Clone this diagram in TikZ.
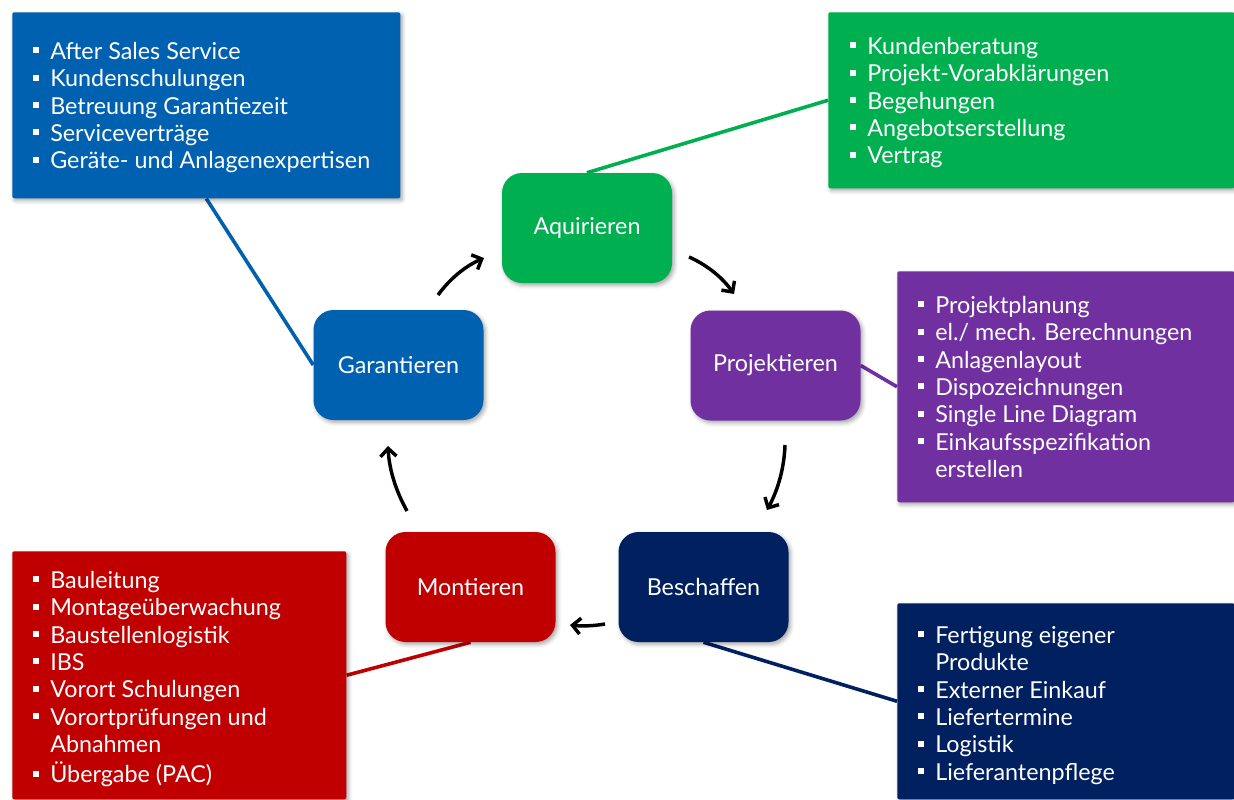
\documentclass[tikz,border=0pt]{standalone}
\usepackage{fontspec}
\setmainfont{Lato}
\usetikzlibrary{arrows.meta,shadows.blur,backgrounds}
\definecolor{cblue}{RGB}{0,97,176}
\definecolor{cgreen}{RGB}{0,176,80}
\definecolor{cpurple}{RGB}{112,48,160}
\definecolor{cnavy}{RGB}{0,32,96}
\definecolor{cred}{RGB}{192,0,0}
\newcommand\bi{\strut\llap{\rule[4.5pt]{4.5pt}{4.5pt}\hspace{8.25pt}}}
\newcommand\cl{\strut}
\begin{document}
\begin{tikzpicture}[x=0.75pt,y=-0.75pt,
  shd/.style={blur shadow={shadow xshift=1.5pt,shadow yshift=-1.8pt,shadow blur radius=3pt,shadow opacity=35}},
  detail/.style={rectangle,rounded corners=1.5pt,inner sep=0pt,anchor=north west,shd},
  proc/.style={rectangle,rounded corners=15pt,minimum width=127.5pt,minimum height=82.5pt,inner sep=0pt,text=white,font=\fontsize{17.5}{20}\selectfont,shd},
  txt/.style={anchor=north west,inner sep=0pt,text=white,align=left,font=\fontsize{17.5}{20.55}\selectfont},
  link/.style={line width=2.7pt},
  cyc/.style={line width=2.6pt,black,-{Straight Barb[length=6pt,width=12pt,line width=2.6pt]}}
]
\useasboundingbox (0,0) rectangle (1234,799);

% detail boxes
\node[detail,fill=cblue,minimum width=291pt,minimum height=139.5pt] (bbox) at (12,12) {};
\node[detail,fill=cgreen,minimum width=304.5pt,minimum height=132pt] (gbox) at (828,12) {};
\node[detail,fill=cpurple,minimum width=252.75pt,minimum height=173.25pt] (pbox) at (897,271) {};
\node[detail,fill=cnavy,minimum width=252.75pt,minimum height=147pt] (nbox) at (897,603) {};
\node[detail,fill=cred,minimum width=250.5pt,minimum height=186pt] (rbox) at (12,551) {};

% texts
\node[txt] (btxt) at (50,39.8) {\bi After Sales Service\\\bi Kundenschulungen\\\bi Betreuung Garantiezeit\\\bi Serviceverträge\\\bi Geräte- und Anlagenexpertisen};
\node[txt] (gtxt) at (867,34.8) {\bi Kundenberatung\\\bi Projekt-Vorabklärungen\\\bi Begehungen\\\bi Angebotserstellung\\\bi Vertrag};
\node[txt] (ptxt) at (935,293.8) {\bi Projektplanung\\\bi el./ mech. Berechnungen\\\bi Anlagenlayout\\\bi Dispozeichnungen\\\bi Single Line Diagram\\\bi Einkaufsspezifikation\\\cl erstellen};
\node[txt] (ntxt) at (935,623.8) {\bi Fertigung eigener\\\cl Produkte\\\bi Externer Einkauf\\\bi Liefertermine\\\bi Logistik\\\bi Lieferantenpflege};
\node[txt] (rtxt) at (50,568.8) {\bi Bauleitung\\\bi Montageüberwachung\\\bi Baustellenlogistik\\\bi IBS\\\bi Vorort Schulungen\\\bi Vorortprüfungen und\\\cl Abnahmen\\\bi Übergabe (PAC)};

% process nodes
\node[proc,fill=cgreen] (aq) at (587,228) {Aquirieren};
\node[proc,fill=cpurple] (proj) at (775.5,365.5) {Projektieren};
\node[proc,fill=cnavy] (besch) at (703.5,587) {Beschaffen};
\node[proc,fill=cred] (mont) at (470.5,587) {Montieren};
\node[proc,fill=cblue] (gar) at (398.5,365) {Garantieren};

% connector lines
\begin{scope}[on background layer]
\draw[link,cgreen] (aq.north) -- (gbox.west);
\draw[link,cblue] (gar.west) -- (bbox.south);
\draw[link,cpurple] (proj.east) -- (pbox.west);
\draw[link,cnavy] (besch.south) -- (nbox.west);
\draw[link,cred] (mont.south) -- (rbox.east);
\end{scope}

% cycle arrows
\coordinate (a1s) at (438,295); \coordinate (a1e) at (484,258);
\coordinate (a2s) at (689,257); \coordinate (a2e) at (734,294);
\coordinate (a3s) at (785,445); \coordinate (a3e) at (767,510);
\coordinate (a4s) at (605,624); \coordinate (a4e) at (570,625);
\coordinate (a5s) at (407,511); \coordinate (a5e) at (388,446);
\draw[cyc] (a1s) .. controls (450.1,278.5) and (465.4,266.1) .. (a1e);
\draw[cyc] (a2s) .. controls (707.2,265.1) and (722.2,277.4) .. (a2e);
\draw[cyc] (a3s) .. controls (784.2,467.7) and (778.2,489.3) .. (a3e);
\draw[cyc] (a4s) .. controls (593.3,626) and (581.7,626.3) .. (a4e);
\draw[cyc] (a5s) .. controls (395.5,490.4) and (389.1,468.7) .. (a5e);
\end{tikzpicture}
\end{document}
